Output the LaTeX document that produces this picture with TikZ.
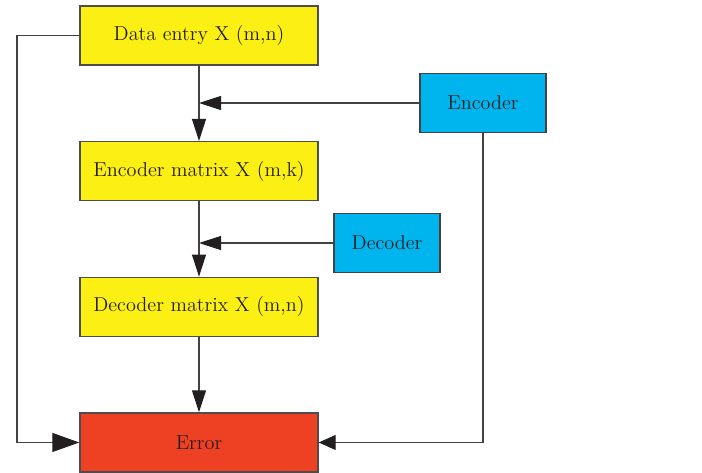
\documentclass[tikz,border=0pt]{standalone}
\usepackage{tikz}
\usetikzlibrary{positioning, arrows.meta}
\definecolor{boxyellow}{HTML}{FCEF14}
\definecolor{boxcyan}{HTML}{00B4EE}
\definecolor{boxred}{HTML}{EE4124}
\definecolor{ink}{HTML}{231F20}

\begin{document}
\begin{tikzpicture}[
     node distance = 15.05mm and 3mm,
         font = \fontsize{11.5}{13}\selectfont,
      ybox/.style = {rectangle, draw=ink!80, line width=0.8pt, fill=boxyellow, text=ink,
                     minimum width=47.6mm, minimum height=11.8mm},
      cbox/.style = {rectangle, draw=ink!85, line width=0.8pt, fill=boxcyan, text=ink,
                     minimum height=11.9mm},
      rbox/.style = {ybox, fill=boxred},
       arr/.style = {draw=ink!85, line width=0.6pt, -{Triangle[length=4.4mm,width=2.8mm,color=ink]}},
       bigarr/.style = {arr, -{Triangle[length=5.4mm,width=3.8mm,color=ink]}},
       smallarr/.style = {arr, -{Triangle[length=3.4mm,width=3mm,color=ink]}},
                        ]
\useasboundingbox (0,0) rectangle (14.04,-9.44);
\node (entry) [ybox] at (3.98,-0.71) {Data entry X (m,n)};
\node (encm)  [ybox,below =of entry] {Encoder matrix X (m,k)};
\node (decm)  [ybox,below =of encm]  {Decoder matrix X (m,n)};
\node (err)   [rbox,below =of decm]  {Error};
\node (enc)   [cbox,minimum width=25.2mm] at (9.66,-2.06) {Encoder};
\node (dec)   [cbox,minimum width=21.2mm] at (7.74,-4.86) {Decoder};
\coordinate (lft) at (0.34,0);
% main column
\draw[arr] (entry) -- (encm);
\draw[arr] (encm) -- (decm);
\draw[arr] (decm) -- (err);
% side inputs
\draw[arr] (enc.west) -- (enc.west -| entry.south);
\draw[arr] (dec.west) -- (dec.west -| entry.south);
\draw[bigarr] (entry.west) -- (entry.west -| lft) |- (err.west);
\draw[smallarr] (enc.south) |- (err.east);
\end{tikzpicture}
\end{document}
